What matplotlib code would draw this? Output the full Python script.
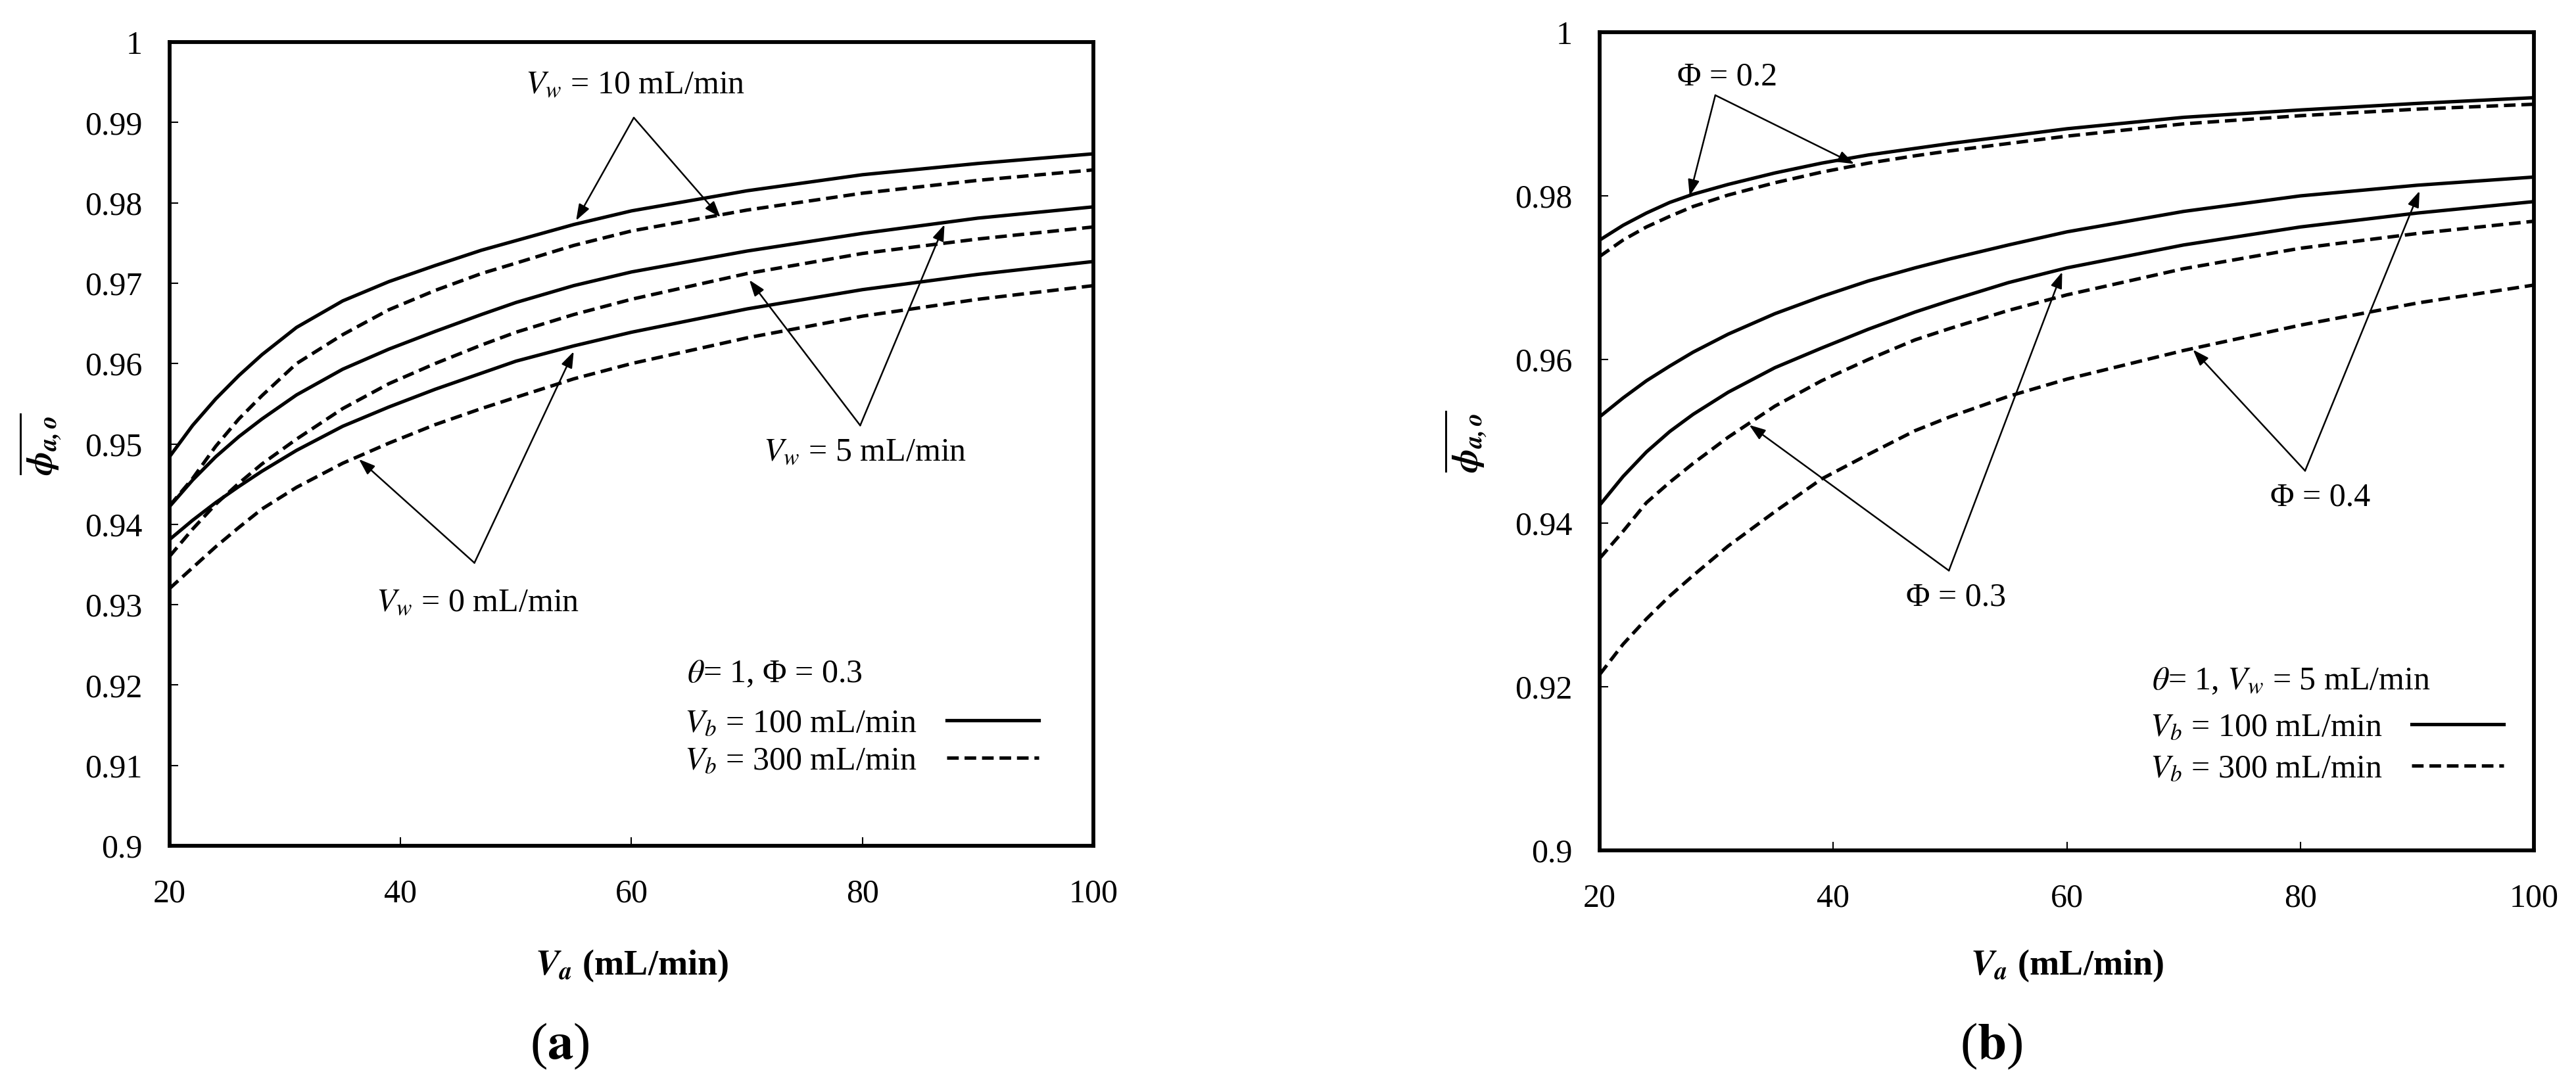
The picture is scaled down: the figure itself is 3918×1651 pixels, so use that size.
import numpy as np
import matplotlib
matplotlib.use("Agg")
import matplotlib.pyplot as plt
from matplotlib.ticker import FuncFormatter

plt.rcParams["font.family"] = ["Liberation Serif", "DejaVu Serif"]
plt.rcParams["mathtext.fontset"] = "stix"
plt.rcParams["font.size"] = 12

# %% data
va = [20, 22, 24, 26, 28, 31, 35, 39, 43, 47, 50, 55, 60, 70, 80, 90, 100]

# (a) theta = 1, Phi = 0.3
a_vw10_vb100 = [.9484, .9523, .9556, .9585, .9611, .9645, .9678, .9702, .9722, .9741, .9753, .9773, .9790, .9815, .9835, .9849, .9861]
a_vw10_vb300 = [.9423, .9457, .9497, .9531, .9560, .9600, .9636, .9667, .9691, .9712, .9725, .9747, .9765, .9791, .9812, .9828, .9841]
a_vw5_vb100 = [.9422, .9455, .9484, .9509, .9531, .9561, .9593, .9618, .9640, .9661, .9676, .9697, .9714, .9740, .9762, .9781, .9795]
a_vw5_vb300 = [.9360, .9394, .9425, .9451, .9475, .9506, .9544, .9575, .9600, .9623, .9639, .9661, .9680, .9712, .9737, .9755, .9770]
a_vw0_vb100 = [.9381, .9405, .9427, .9447, .9466, .9492, .9522, .9546, .9568, .9588, .9603, .9622, .9639, .9668, .9692, .9711, .9727]
a_vw0_vb300 = [.9320, .9346, .9372, .9396, .9419, .9446, .9476, .9501, .9524, .9544, .9558, .9581, .9600, .9632, .9659, .9680, .9697]

# (b) theta = 1, Vw = 5 mL/min
b_phi02_vb100 = [.9746, .9764, .9779, .9792, .9802, .9814, .9828, .9840, .9850, .9858, .9864, .9873, .9882, .9896, .9905, .9913, .9920]
b_phi02_vb300 = [.9726, .9746, .9762, .9775, .9787, .9801, .9816, .9829, .9840, .9849, .9855, .9864, .9873, .9888, .9898, .9906, .9912]
b_phi03_vb100 = [.9422, .9457, .9487, .9512, .9533, .9560, .9590, .9614, .9637, .9658, .9672, .9694, .9712, .9740, .9762, .9779, .9793]
b_phi03_vb300 = [.9357, .9390, .9425, .9450, .9473, .9505, .9543, .9574, .9600, .9624, .9638, .9660, .9679, .9711, .9736, .9754, .9769]
b_phi04_vb100 = [.9530, .9553, .9574, .9592, .9609, .9631, .9656, .9677, .9696, .9712, .9723, .9740, .9756, .9781, .9800, .9813, .9823]
b_phi04_vb300 = [.9215, .9252, .9283, .9311, .9336, .9372, .9414, .9454, .9484, .9513, .9530, .9555, .9576, .9611, .9642, .9669, .9691]

x_ticks = [20, 40, 60, 80, 100]
y_ticks_a = [0.90, 0.91, 0.92, 0.93, 0.94, 0.95, 0.96, 0.97, 0.98, 0.99, 1.00]
y_ticks_b = [0.90, 0.92, 0.94, 0.96, 0.98, 1.00]

# label text, text position, arrow vertex, arrow tips
notes_a = [
    (r"$V_w$ = 10 mL/min", (60.3, 0.9946), (60.2, 0.9906), [(55.2, 0.9778), (67.7, 0.9782)]),
    (r"$V_w$ = 5 mL/min", (80.2, 0.9489), (79.8, 0.9523), [(70.2, 0.9704), (87.1, 0.9773)]),
    (r"$V_w$ = 0 mL/min", (46.7, 0.9302), (46.4, 0.9352), [(36.4, 0.9481), (55.0, 0.9615)]),
]
notes_b = [
    ("Φ = 0.2", (30.9, 0.9945), (29.9, 0.9923), [(27.7, 0.9800), (41.8, 0.9839)]),
    ("Φ = 0.3", (50.5, 0.9309), (49.9, 0.9342), [(32.8, 0.9520), (59.6, 0.9707)]),
    ("Φ = 0.4", (81.7, 0.9431), (80.4, 0.9464), [(70.8, 0.9612), (90.2, 0.9806)]),
]

DASH = (3.4, 1.7)
LW = 1.25


def style_axes(ax, yticks, ylab_x, xlab_y):
    ax.set_xlim(20, 100)
    ax.set_ylim(0.9, 1.0)
    ax.set_xticks(x_ticks)
    ax.set_yticks(yticks)
    ax.yaxis.set_major_formatter(FuncFormatter(lambda v, p: f"{v:g}"))
    ax.tick_params(direction="in", length=3.2, width=0.5, labelsize=12)
    ax.tick_params(axis="y", pad=10)
    ax.tick_params(axis="x", pad=12)
    for s in ax.spines.values():
        s.set_linewidth(1.4)
    ax.set_xlabel(r"$\mathbfit{V}_{\mathbfit{a}}$ (mL/min)", fontsize=13, fontweight="bold")
    ax.set_ylabel(r"$\overline{\mathbfit{\phi}_{\mathbfit{a,o}}}$", fontsize=13)
    ax.xaxis.label.set_va("center")
    ax.yaxis.label.set_va("center")
    ax.xaxis.set_label_coords(0.5, xlab_y)
    ax.yaxis.set_label_coords(ylab_x, 0.5)


def draw_notes(ax, notes):
    for label, tpos, vertex, tips in notes:
        ax.text(tpos[0], tpos[1], label, ha="center", va="center", fontsize=12)
        for tip in tips:
            ax.annotate("", xy=tip, xytext=vertex,
                        arrowprops=dict(arrowstyle="-|>,head_length=0.45,head_width=0.16",
                                        lw=0.6, color="black", shrinkA=0, shrinkB=0,
                                        mutation_scale=11))


def draw_key(ax, handles, title, tpos, anchor, spacing):
    ax.text(tpos[0], tpos[1], title, ha="left", va="center", fontsize=12)
    ax.legend(handles, [r"$V_b$ = 100 mL/min", r"$V_b$ = 300 mL/min"], fontsize=12,
              markerfirst=False, frameon=False, handlelength=2.8, handletextpad=0.9,
              labelspacing=spacing, borderpad=0, borderaxespad=0,
              loc="upper left", bbox_to_anchor=anchor, bbox_transform=ax.transData)


fig = plt.figure(figsize=(3918 / 300, 1651 / 300), dpi=300)
ax_a = fig.add_axes([0.0658, 0.2205, 0.3587, 0.7407])
ax_b = fig.add_axes([0.6210, 0.2162, 0.3627, 0.7541])

# panel (a)
for solid, dashed in [(a_vw10_vb100, a_vw10_vb300), (a_vw5_vb100, a_vw5_vb300), (a_vw0_vb100, a_vw0_vb300)]:
    h1, = ax_a.plot(va, solid, color="black", lw=LW)
    h2, = ax_a.plot(va, dashed, color="black", lw=LW, dashes=DASH)
style_axes(ax_a, y_ticks_a, -0.1395, -0.1496)
draw_notes(ax_a, notes_a)
draw_key(ax_a, [h1, h2], r"$\theta$= 1, Φ = 0.3", (64.8, 0.9214), (64.6, 0.9171), 0.22)

# panel (b)
for solid, dashed in [(b_phi02_vb100, b_phi02_vb300), (b_phi03_vb100, b_phi03_vb300), (b_phi04_vb100, b_phi04_vb300)]:
    g1, = ax_b.plot(va, solid, color="black", lw=LW)
    g2, = ax_b.plot(va, dashed, color="black", lw=LW, dashes=DASH)
style_axes(ax_b, y_ticks_b, -0.1436, -0.141)
draw_notes(ax_b, notes_b)
draw_key(ax_b, [g1, g2], r"$\theta$= 1, $V_w$ = 5 mL/min", (67.3, 0.9207), (67.1, 0.9169), 0.34)

fig.text(851 / 3918, 1 - 1592 / 1651, r"($\mathbf{a}$)", ha="center", va="center", fontsize=19)
fig.text(3029 / 3918, 1 - 1592 / 1651, r"($\mathbf{b}$)", ha="center", va="center", fontsize=19)

fig.savefig("out.png", dpi=300, facecolor="white")
